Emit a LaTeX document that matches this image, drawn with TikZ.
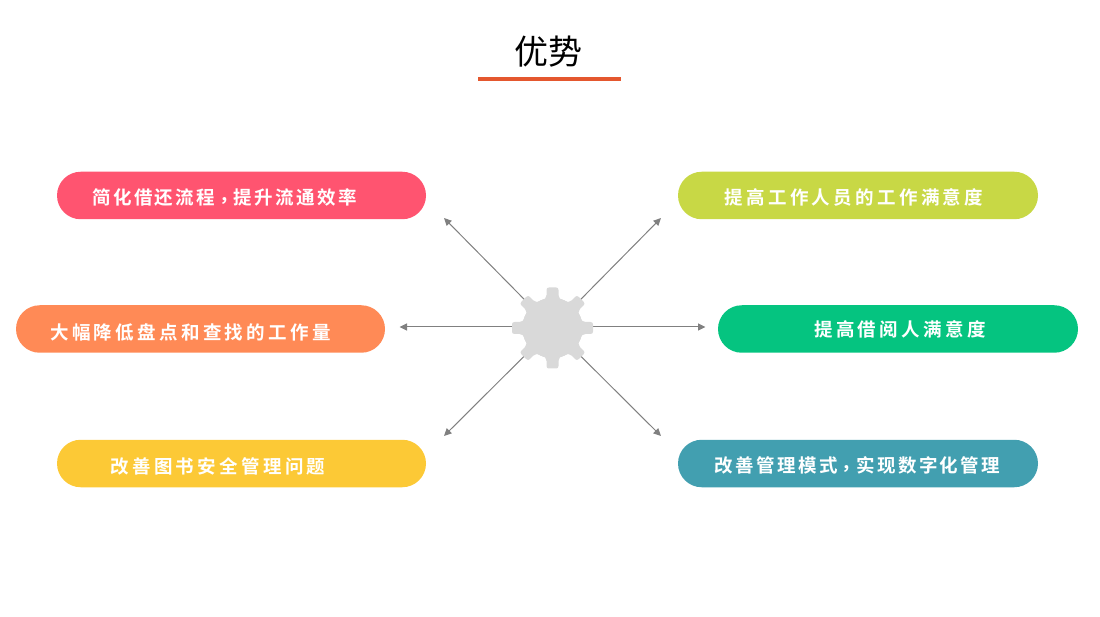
\documentclass[tikz,border=0pt]{standalone}
\usepackage{fontspec}
\usetikzlibrary{shapes.misc,arrows.meta}
\setmainfont{Noto Sans CJK SC}
\newfontfamily\pilltight[LetterSpace=13]{Noto Sans CJK SC Bold}
\newfontfamily\pillwide[LetterSpace=18]{Noto Sans CJK SC Bold}
\newfontfamily\commafont[LetterSpace=13]{Noto Sans CJK TC Bold}
\newcommand{\fwcomma}{\raisebox{-3pt}{\commafont\char"FF0C\relax}}
\definecolor{cPink}{HTML}{FF5470}
\definecolor{cOrange}{HTML}{FF8A56}
\definecolor{cYellow}{HTML}{FCC936}
\definecolor{cLime}{HTML}{C8D845}
\definecolor{cGreen}{HTML}{05C480}
\definecolor{cTeal}{HTML}{429FB0}
\definecolor{cLine}{HTML}{808080}
\definecolor{cGear}{HTML}{D9D9D9}
\definecolor{cRule}{HTML}{E4572E}
\tikzset{
  x=1pt,y=-1pt,
  pill/.style={rounded rectangle,minimum height=47.5pt,inner sep=0pt,draw=none},
  pilllabel/.style={anchor=base,inner sep=0pt,text=white},
  tight/.style={pilllabel,font=\fontsize{18.5pt}{20pt}\pilltight},
  wide/.style={pilllabel,font=\fontsize{18.5pt}{20pt}\pillwide},
  spoke/.style={draw=cLine,line width=1pt,-{Triangle[length=7.5pt,width=7pt]}},
  tooth/.style={fill=cGear,draw=none},
  gearbody/.style={circle,fill=cGear,minimum size=60pt,inner sep=0pt}
}
\begin{document}
\begin{tikzpicture}
\useasboundingbox (0,0) rectangle (1100,617);
\node[inner sep=0pt,font=\fontsize{34pt}{36pt}\selectfont] (title) at (548,51.5) {优势};
\fill[cRule] (478,77) rectangle (620.5,81.5);
\node[pill,fill=cPink,minimum width=369pt] (p1) at (241.5,195.5) {};
\node[pill,fill=cOrange,minimum width=369pt] (p2) at (200.5,329) {};
\node[pill,fill=cYellow,minimum width=369pt] (p3) at (241.5,463.5) {};
\node[pill,fill=cLime,minimum width=360pt] (p4) at (858,195.5) {};
\node[pill,fill=cGreen,minimum width=360pt] (p5) at (898,329) {};
\node[pill,fill=cTeal,minimum width=360pt] (p6) at (858,463.5) {};
\node[tight] (t1) at (224.5,204.5) {简化借还流程\fwcomma 提升流通效率};
\node[wide] (t2) at (190.5,340) {大幅降低盘点和查找的工作量};
\node[wide] (t3) at (218,473) {改善图书安全管理问题};
\node[wide] (t4) at (854,204.5) {提高工作人员的工作满意度};
\node[wide] (t5) at (900,336.5) {提高借阅人满意度};
\node[tight] (t6) at (857.5,472.5) {改善管理模式\fwcomma 实现数字化管理};
\node[gearbody] (gear) at (552.5,328) {};
\coordinate (e1) at (444,218);
\coordinate (e2) at (399.5,327);
\coordinate (e3) at (444,436);
\coordinate (e4) at (661,218);
\coordinate (e5) at (705.5,327);
\coordinate (e6) at (661,436);
\draw[spoke] (gear) -- (e1);
\draw[spoke] (gear.center|-e2) -- (e2);
\draw[spoke] (gear) -- (e3);
\draw[spoke] (gear) -- (e4);
\draw[spoke] (gear.center|-e5) -- (e5);
\draw[spoke] (gear) -- (e6);
\node[gearbody] at (gear) {};
\foreach \a in {0,45,...,315}{
  \fill[tooth,rotate around={\a:(gear.center)},shift={(gear.center)}]
    (-11.5,-27.7) .. controls (-7.5,-28.7) and (-6,-30) .. (-6,-33)
    -- (-6,-38) .. controls (-6,-39.8) and (-5,-40.5) .. (-3.5,-40.5)
    -- (3.5,-40.5) .. controls (5,-40.5) and (6,-39.8) .. (6,-38)
    -- (6,-33) .. controls (6,-30) and (7.5,-28.7) .. (11.5,-27.7) -- (0,-20) -- cycle;
}
\end{tikzpicture}
\end{document}
